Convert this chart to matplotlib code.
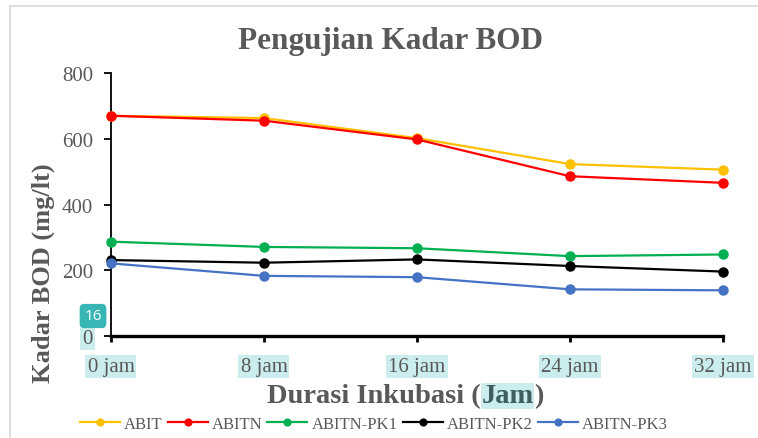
import matplotlib
matplotlib.use('Agg')
import matplotlib.pyplot as plt
from matplotlib.patches import Rectangle

# data
hours = [0, 8, 16, 24, 32]
x_labels = ['0 jam', '8 jam', '16 jam', '24 jam', '32 jam']
abit = [670, 663, 602, 523, 506]
abitn = [670, 655, 598, 486, 466]
abitn_pk1 = [287, 271, 267, 243, 248]
abitn_pk2 = [231, 223, 233, 213, 196]
abitn_pk3 = [221, 183, 179, 142, 139]

series = [
    ('ABIT', abit, '#FFC000'),
    ('ABITN', abitn, '#FF0000'),
    ('ABITN-PK1', abitn_pk1, '#00B050'),
    ('ABITN-PK2', abitn_pk2, '#000000'),
    ('ABITN-PK3', abitn_pk3, '#4472C4'),
]

text_gray = '#595959'
hl_color = '#cbeded'
serif = 'Liberation Serif'
W, H = 758, 439

fig = plt.figure(figsize=(W / 100, H / 100), dpi=100)
ax = fig.add_axes([0.1464, 0.2323, 0.8074, 0.5991])

# light chart-area frame (top and left edges visible)
fig.patches.append(Rectangle((10 / W, -0.1), 1.2, 1 - 7 / H + 0.1,
                             transform=fig.transFigure, fill=False,
                             edgecolor='#d9d9d9', linewidth=1.2))

for name, vals, col in series:
    ax.plot(hours, vals, color=col, linewidth=1.6, marker='o',
            markersize=6.5, label=name, clip_on=False, zorder=3)

ax.set_xlim(0, 32)
ax.set_ylim(0, 800)
ax.set_xticks(hours)
ax.set_xticklabels(x_labels)
ax.set_yticks([0, 200, 400, 600, 800])

for s in ['top', 'right']:
    ax.spines[s].set_visible(False)
ax.spines['left'].set_linewidth(1.3)
ax.spines['bottom'].set_linewidth(2.4)

ax.tick_params(axis='y', length=5, width=1.3, direction='out', pad=8,
               labelsize=15, labelcolor=text_gray)
ax.tick_params(axis='x', length=4, width=2, direction='out', pad=11,
               labelsize=15, labelcolor=text_gray)
for lbl in ax.get_xticklabels() + ax.get_yticklabels():
    lbl.set_fontfamily(serif)
for lbl in ax.get_xticklabels():
    lbl.set_bbox(dict(facecolor=hl_color, edgecolor='none', pad=1.5))
ax.get_yticklabels()[0].set_bbox(dict(facecolor=hl_color, edgecolor='none', pad=1.5))

fig.text(390 / W, 1 - 42 / H, 'Pengujian Kadar BOD', ha='center', va='center',
         fontsize=22.5, fontweight='bold', color=text_gray, family=serif)
fig.text(43 / W, 1 - 273 / H, 'Kadar BOD (mg/lt)', ha='center', va='center',
         rotation=90, fontsize=19, fontweight='bold', color=text_gray, family=serif)

# x label with highlighted "Jam", centred as a whole
xl_y = 1 - 397 / H
xl_kw = dict(va='center', fontsize=20.5, fontweight='bold', family=serif)
part1 = fig.text(0, xl_y, 'Durasi Inkubasi (', ha='left', color=text_gray, **xl_kw)
part2 = fig.text(0, xl_y, 'Jam', ha='left', color='#3f5f5f',
                 bbox=dict(facecolor=hl_color, edgecolor='none', pad=0.5), **xl_kw)
part3 = fig.text(0, xl_y, ')', ha='left', color=text_gray, **xl_kw)
fig.canvas.draw()
r = fig.canvas.get_renderer()
w1 = part1.get_window_extent(r).width
w2 = part2.get_window_extent(r).width + 1.5
w3 = part3.get_window_extent(r).width
x0 = 405 - (w1 + w2 + w3) / 2
part1.set_x(x0 / W)
part2.set_x((x0 + w1 + 1) / W)
part3.set_x((x0 + w1 + w2) / W)

# the teal "16" badge near the origin
fig.text(93 / W, 1 - 317 / H, '16', ha='center', va='center',
         fontsize=11, color='white', family='Open Sans',
         bbox=dict(boxstyle='round,pad=0.3', facecolor='#38b6b6', edgecolor='none'))

leg = fig.legend(loc='center', bbox_to_anchor=(0.493, 1 - 425 / H), ncol=5,
                 frameon=False, handlelength=2.4, columnspacing=0.3,
                 handletextpad=0.25, markerscale=0.75,
                 prop={'family': serif, 'size': 12})
for t in leg.get_texts():
    t.set_color(text_gray)

fig.savefig('out.png', dpi=100)
